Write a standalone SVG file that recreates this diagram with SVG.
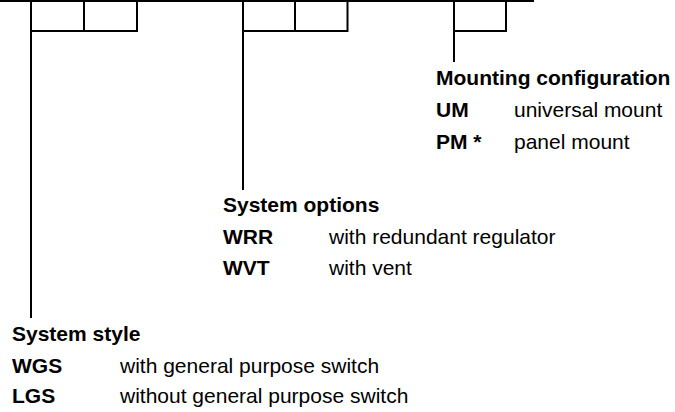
<svg xmlns="http://www.w3.org/2000/svg" width="675" height="412" viewBox="0 0 675 412">
<style>
.ln{stroke:#000;stroke-width:2;fill:none;stroke-linecap:butt}
text{font-family:"Liberation Sans",Arial,sans-serif;font-size:21px;fill:#000}
.b{font-weight:bold}
</style>
<rect width="675" height="412" fill="#fff"/>
<g id="connectors">
<line class="ln" x1="0" y1="1" x2="534" y2="1"/>
<path class="ln" d="M31,0V318M31,31H137V0M84,0V31"/>
<path class="ln" d="M243,0V190M243,31H347.5V0M295,0V31"/>
<path class="ln" d="M454,0V62M454,31H506V0"/>
</g>
<g id="mounting">
<text class="b" x="436" y="85">Mounting configuration</text>
<text class="b" x="436" y="117">UM</text>
<text x="514" y="117">universal mount</text>
<text class="b" x="436" y="149">PM *</text>
<text x="514" y="149">panel mount</text>
</g>
<g id="options">
<text class="b" x="223" y="212">System options</text>
<text class="b" x="223" y="244">WRR</text>
<text x="329" y="244">with redundant regulator</text>
<text class="b" x="223" y="275">WVT</text>
<text x="329" y="275">with vent</text>
</g>
<g id="style">
<text class="b" x="12" y="341">System style</text>
<text class="b" x="12" y="373">WGS</text>
<text x="120" y="373">with general purpose switch</text>
<text class="b" x="12" y="403">LGS</text>
<text x="120" y="403">without general purpose switch</text>
</g>
</svg>
